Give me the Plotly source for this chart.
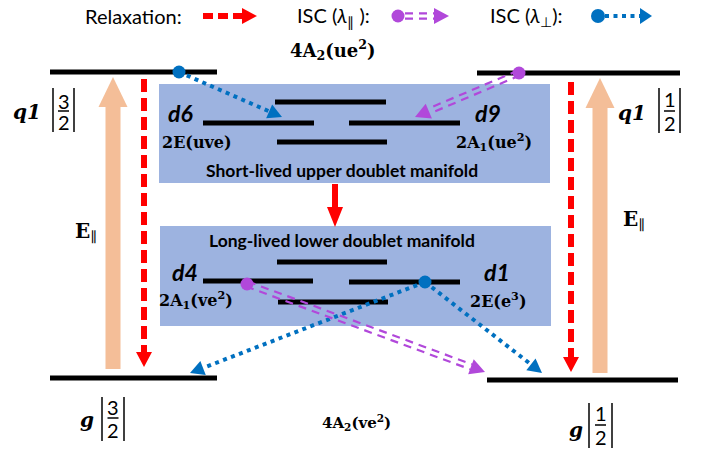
import math
import plotly.graph_objects as go

W, H = 717, 455

# ---------------- content (labels) ----------------
legend_labels = ["Relaxation:", "ISC (<i>λ</i><sub>∥</sub> ):", "ISC (<i>λ</i><sub>⊥</sub>):"]
manifold_titles = ["Short-lived upper doublet manifold", "Long-lived lower doublet manifold"]
state_names = ["d6", "d9", "d4", "d1"]
state_terms = ["2E(uve)", "2A<sub>1</sub>(ue<sup>2</sup>)", "2A<sub>1</sub>(ve<sup>2</sup>)", "2E(e<sup>3</sup>)"]
quartet_terms = ["4A<sub>2</sub>(ue<sup>2</sup>)", "4A<sub>2</sub>(ve<sup>2</sup>)"]
level_names = ["q1", "g", "q1", "g"]
spin_numerators = ["3", "3", "1", "1"]
spin_denominators = ["2", "2", "2", "2"]
pump_label = "E"

# ---------------- geometry (pixel-like data coordinates) ----------------
main_levels = [(50, 217, 72), (50, 217, 378), (477, 680, 73), (487, 678, 380)]
boxes = [(159, 550, 84, 183), (160, 551, 226, 326)]
manifold_levels = [(275, 386, 102), (203, 314, 123), (349, 460, 123), (277, 387, 142),
                   (277, 387, 262), (203, 313, 281), (349, 460, 282), (278, 388, 302)]
pump_arrows = [(113, 369, 77), (600, 373, 78)]
relax_arrows = [((144, 79), (144, 367)), ((571, 82), (571, 372))]
relax_mid = ((335, 184), (335, 227))
isc_perp = [((179, 72), (282, 117)), ((425, 282), (190, 373)), ((425, 282), (542, 373))]
isc_par = [((519, 73), (415, 117)), ((247, 284), (485, 372))]

RED = "#FF0000"
BLUE = "#0070C0"
PURPLE = "#B148DA"
ORANGE = "#F4BE98"
BOXC = "#9DB3E0"

SANS = "Lato"
SERIF = "DejaVu Serif"

shapes = []
annos = []


def line(x0, y0, x1, y1, color, width, dash="solid"):
    shapes.append(dict(type="line", xref="x", yref="y", x0=x0, y0=y0, x1=x1, y1=y1,
                       line=dict(color=color, width=width, dash=dash), layer="above"))


def head(frm, tip, length, half, color):
    dx, dy = tip[0] - frm[0], tip[1] - frm[1]
    n = math.hypot(dx, dy)
    ux, uy = dx / n, dy / n
    bx, by = tip[0] - ux * length, tip[1] - uy * length
    px, py = -uy, ux
    p = (f"M {bx + px * half},{by + py * half} L {tip[0]},{tip[1]} "
         f"L {bx - px * half},{by - py * half} Z")
    shapes.append(dict(type="path", xref="x", yref="y", path=p, fillcolor=color,
                       line=dict(width=0, color=color), layer="above"))
    return bx, by


def dot(cx, cy, r, color):
    shapes.append(dict(type="circle", xref="x", yref="y", x0=cx - r, x1=cx + r, y0=cy - r, y1=cy + r,
                       fillcolor=color, line=dict(width=0, color=color), layer="above"))


def red_arrow(frm, tip, dash="13px,6px", length=15, half=8):
    bx, by = head(frm, tip, length, half, RED)
    line(frm[0], frm[1], bx, by, RED, 6, dash)


def blue_arrow(frm, tip, length=14, half=7.5):
    bx, by = head(frm, tip, length, half, BLUE)
    line(frm[0], frm[1], bx, by, BLUE, 4, "4px,4.5px")


def purple_arrow(frm, tip, length=15, half=8):
    bx, by = head(frm, tip, length, half, PURPLE)
    dx, dy = tip[0] - frm[0], tip[1] - frm[1]
    n = math.hypot(dx, dy)
    px, py = -dy / n, dx / n
    for s in (-2.6, 2.6):
        line(frm[0] + px * s, frm[1] + py * s, bx + px * s, by + py * s, PURPLE, 2.2, "8px,6px")


def text(t, x, y, size, family=SANS, color="black", xanchor="center"):
    annos.append(dict(text=t, x=x, y=y, xref="x", yref="y", showarrow=False,
                      xanchor=xanchor, yanchor="middle", font=dict(size=size, family=family, color=color)))


# boxes
for x0, x1, y0, y1 in boxes:
    shapes.append(dict(type="rect", xref="x", yref="y", x0=x0, x1=x1, y0=y0, y1=y1,
                       fillcolor=BOXC, line=dict(width=0), layer="below"))

# orange pump arrows
for cx, yb, yt in pump_arrows:
    shapes.append(dict(type="rect", xref="x", yref="y", x0=cx - 7.5, x1=cx + 7.5, y0=yt + 29, y1=yb,
                       fillcolor=ORANGE, line=dict(width=0), layer="above"))
    head((cx, yb), (cx, yt), 30, 14.5, ORANGE)

# levels
for x0, x1, y in main_levels:
    line(x0, y, x1, y, "black", 5)
for x0, x1, y in manifold_levels:
    line(x0, y, x1, y, "black", 5)

# relaxation arrows
for frm, tip in relax_arrows:
    red_arrow(frm, tip)
red_arrow(relax_mid[0], relax_mid[1], dash="solid", length=20, half=8)

# ISC arrows
for frm, tip in isc_perp:
    blue_arrow(frm, tip)
for frm, tip in isc_par:
    purple_arrow(frm, tip)

# dots
dot(179, 72, 6.5, BLUE)
dot(425, 282, 6.5, BLUE)
dot(519, 73, 6.5, PURPLE)
dot(247, 284, 6.5, PURPLE)

# legend
text(legend_labels[0], 133, 16, 20)
red_arrow((203, 16), (257, 16), dash="10px,5px", length=15, half=8)
text(legend_labels[1], 333, 16, 20)
dot(398, 16, 6.5, PURPLE)
purple_arrow((405, 16), (449, 16), length=15, half=8)
text(legend_labels[2], 526, 16, 20)
dot(598, 16, 7, BLUE)
blue_arrow((605, 16), (652, 16), length=12, half=8)

# quartet terms
text(f"<b>{quartet_terms[0]}</b>", 333, 50, 18, SERIF)
text(f"<b>{quartet_terms[1]}</b>", 356, 422, 15, SERIF)

# manifold titles
text(f"<b>{manifold_titles[0]}</b>", 342, 170, 17.5)
text(f"<b>{manifold_titles[1]}</b>", 342, 240, 17.5)

# doublet states
state_pos = [(180, 113), (488, 113), (185, 272), (497, 272)]
term_pos = [(197, 142), (494, 142), (196, 300), (498, 300)]
for name, (x, y) in zip(state_names, state_pos):
    text(f"<b><i>{name}</i></b>", x, y, 23)
for term, (x, y) in zip(state_terms, term_pos):
    text(f"<b>{term}</b>", x, y, 16, SERIF)

# level labels with |m| fractions
name_pos = [(27, 112), (87, 420), (632, 113), (576, 430)]
frac = [  # (bar x left, bar x right, y top, y bottom, numer y, line y, denom y)
    (53, 74, 88, 132, 101, 111, 122),
    (102, 124, 397, 441, 407, 418, 430),
    (659, 680, 88, 133, 99, 111, 123),
    (589, 612, 403, 448, 413, 425, 437),
]
for nm, (x, y), num, den, (xl, xr, yt, yb, yn, yl, yd) in zip(level_names, name_pos, spin_numerators,
                                                             spin_denominators, frac):
    text(f"<b><i>{nm}</i></b>", x, y, 20, SERIF)
    line(xl, yt, xl, yb, "black", 1.5)
    line(xr, yt, xr, yb, "black", 1.5)
    xc = (xl + xr) / 2
    line(xc - 5.5, yl, xc + 5.5, yl, "black", 1.5)
    text(num, xc, yn, 20)
    text(den, xc, yd, 20)

# pump labels
text(f"<b>{pump_label}</b><sub>∥</sub>", 86, 232, 20, SERIF)
text(f"<b>{pump_label}</b><sub>∥</sub>", 634, 220, 20, SERIF)

fig = go.Figure()
fig.add_trace(go.Scatter(x=[0, W], y=[0, H], mode="markers", marker=dict(opacity=0), hoverinfo="skip",
                         showlegend=False))
fig.update_layout(
    width=W, height=H, margin=dict(l=0, r=0, t=0, b=0),
    paper_bgcolor="white", plot_bgcolor="white",
    xaxis=dict(range=[0, W], visible=False, fixedrange=True),
    yaxis=dict(range=[H, 0], visible=False, fixedrange=True),
    shapes=shapes, annotations=annos, showlegend=False,
)
fig.write_html("out.html", config={"displayModeBar": False},
               post_script="document.body.style.margin='0';document.body.style.overflow='hidden';")
